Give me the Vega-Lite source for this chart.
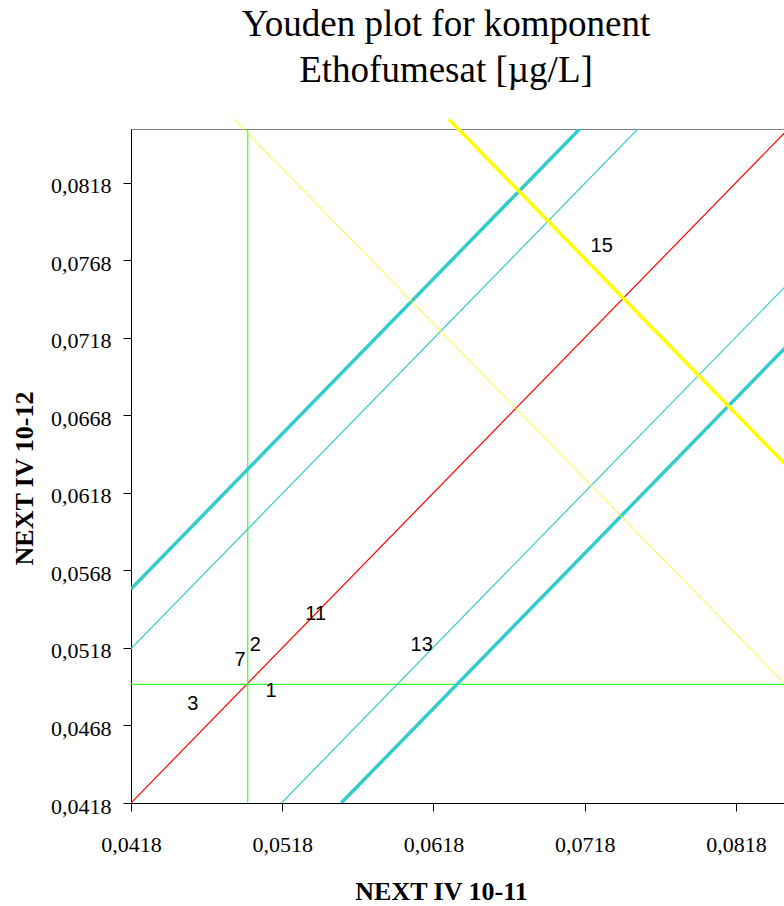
{
  "$schema": "https://vega.github.io/schema/vega-lite/v6.json",
  "autosize": {"type": "none"},
  "padding": {"left": 131, "top": 129, "right": 0, "bottom": 103},
  "width": 654,
  "height": 674,
  "background": "white",
  "title": {
    "text": ["Youden plot for komponent", "Ethofumesat [µg/L]"],
    "font": "Liberation Serif",
    "fontSize": 37,
    "fontWeight": "normal",
    "color": "black",
    "lineHeight": 46,
    "anchor": "middle",
    "dx": -12,
    "offset": 22
  },
  "config": {
    "view": {"stroke": "#808080", "strokeWidth": 1},
    "axis": {
      "grid": false,
      "labelFlush": false,
      "domainColor": "black",
      "tickColor": "black",
      "tickSize": 8,
      "labelFont": "Liberation Serif",
      "labelFontSize": 22,
      "labelColor": "black",
      "titleFont": "Liberation Serif",
      "titleFontSize": 26,
      "titleFontWeight": "bold",
      "titleColor": "black"
    }
  },
  "datasets": {
    "guides": [
      {"grp": "x=y", "i": 0, "x": 0.0418, "y": 0.0418},
      {"grp": "x=y", "i": 1, "x": 0.0900, "y": 0.0900},
      {"grp": "median x", "i": 0, "x": 0.04952, "y": 0.0418},
      {"grp": "median x", "i": 1, "x": 0.04952, "y": 0.0900},
      {"grp": "median y", "i": 0, "x": 0.0418, "y": 0.04945},
      {"grp": "median y", "i": 1, "x": 0.0900, "y": 0.04945},
      {"grp": "inner upper", "i": 0, "x": 0.0418, "y": 0.05175},
      {"grp": "inner upper", "i": 1, "x": 0.0800, "y": 0.08995},
      {"grp": "inner lower", "i": 0, "x": 0.05175, "y": 0.0418},
      {"grp": "inner lower", "i": 1, "x": 0.08995, "y": 0.0800}
    ],
    "limits": [
      {"grp": "outer upper", "i": 0, "x": 0.0418, "y": 0.0556},
      {"grp": "outer upper", "i": 1, "x": 0.0762, "y": 0.0900},
      {"grp": "outer lower", "i": 0, "x": 0.0557, "y": 0.0418},
      {"grp": "outer lower", "i": 1, "x": 0.0900, "y": 0.0761}
    ],
    "innerCross": [
      {"grp": "inner cross", "i": 0, "x": 0.04862, "y": 0.08588},
      {"grp": "inner cross", "i": 1, "x": 0.08504, "y": 0.04946}
    ],
    "outerCross": [
      {"grp": "outer cross", "i": 0, "x": 0.06282, "y": 0.08588},
      {"grp": "outer cross", "i": 1, "x": 0.08504, "y": 0.06366}
    ],
    "labs": [
      {"lab": "1", "x": 0.05106, "y": 0.04900},
      {"lab": "2", "x": 0.05002, "y": 0.05197},
      {"lab": "3", "x": 0.04588, "y": 0.04821},
      {"lab": "7", "x": 0.04901, "y": 0.05105},
      {"lab": "11", "x": 0.05401, "y": 0.05401},
      {"lab": "13", "x": 0.06102, "y": 0.05197},
      {"lab": "15", "x": 0.07292, "y": 0.07769}
    ]
  },
  "encoding": {
    "x": {
      "field": "x",
      "type": "quantitative",
      "scale": {"domain": [0.0418, 0.08504], "nice": false, "zero": false},
      "axis": {
        "title": "NEXT IV 10-11",
        "values": [0.0418, 0.0518, 0.0618, 0.0718, 0.0818],
        "labelExpr": "replace(format(datum.value, '.4f'), '.', ',')",
        "labelBaseline": "alphabetic",
        "labelPadding": 40,
        "titleX": 310,
        "titleY": 96,
        "titleAlign": "center",
        "titleBaseline": "alphabetic"
      }
    },
    "y": {
      "field": "y",
      "type": "quantitative",
      "scale": {"domain": [0.0418, 0.08526], "nice": false, "zero": false},
      "axis": {
        "title": "NEXT IV 10-12",
        "values": [0.0418, 0.0468, 0.0518, 0.0568, 0.0618, 0.0668, 0.0718, 0.0768, 0.0818],
        "labelExpr": "replace(format(datum.value, '.4f'), '.', ',')",
        "labelBaseline": "alphabetic",
        "labelOffset": 10,
        "labelPadding": 12,
        "titleX": -99,
        "titleY": 349,
        "titleAngle": 270,
        "titleAlign": "center",
        "titleBaseline": "alphabetic"
      }
    }
  },
  "layer": [
    {
      "data": {"name": "guides"},
      "mark": {"type": "line", "clip": true, "strokeWidth": 1.2},
      "encoding": {
        "detail": {"field": "grp"},
        "order": {"field": "i"},
        "color": {
          "field": "grp",
          "type": "nominal",
          "legend": null,
          "scale": {
            "domain": ["x=y", "median x", "median y", "inner upper", "inner lower"],
            "range": ["#FF0000", "#33FF33", "#33FF33", "#33CCCC", "#33CCCC"]
          }
        }
      }
    },
    {
      "data": {"name": "limits"},
      "mark": {"type": "line", "clip": true, "strokeWidth": 3.5, "color": "#33CCCC"},
      "encoding": {
        "detail": {"field": "grp"},
        "order": {"field": "i"}
      }
    },
    {
      "data": {"name": "innerCross"},
      "mark": {"type": "line", "clip": false, "strokeWidth": 1, "color": "#FFFF00"},
      "encoding": {
        "order": {"field": "i"}
      }
    },
    {
      "data": {"name": "outerCross"},
      "mark": {"type": "line", "clip": false, "strokeWidth": 3.5, "color": "#FFFF00"},
      "encoding": {
        "order": {"field": "i"}
      }
    },
    {
      "data": {"name": "labs"},
      "mark": {
        "type": "text",
        "font": "Liberation Sans",
        "fontSize": 20,
        "color": "black",
        "align": "center",
        "baseline": "middle"
      },
      "encoding": {"text": {"field": "lab"}}
    }
  ]
}
